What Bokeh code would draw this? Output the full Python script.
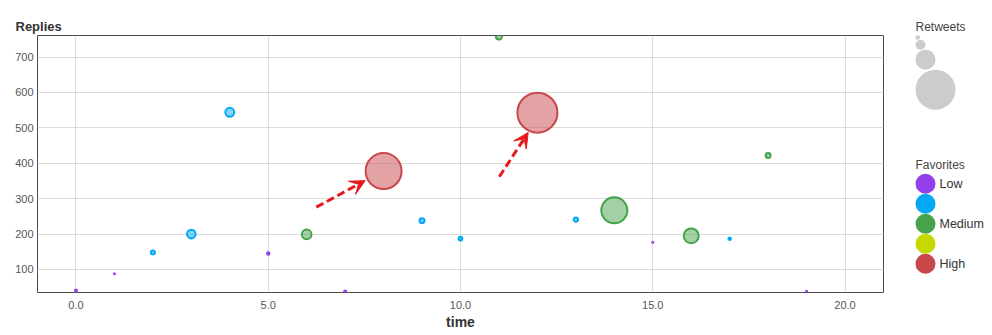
import math
from bokeh.plotting import figure
from bokeh.layouts import row
from bokeh.models import (Range1d, FixedTicker, PrintfTickFormatter, Arrow,
                          VeeHead, ColumnDataSource)
from bokeh.core.properties import value
from bokeh.embed import file_html
from bokeh.resources import INLINE

# ---------------- data ----------------
TIME = list(range(20))
REPLIES = [41, 88, 148, 200, 544, 145, 199, 38, 378, 238,
           187, 758, 543, 241, 267, 177, 195, 187, 422, 38]
RETWEETS = [4, 1.5, 9, 28, 30, 5, 34, 4, 361, 12,
            8, 16, 441, 10, 196, 1, 72, 5, 12, 2]
FAVORITES = [0, 0, 1, 1, 1, 0, 2, 0, 4, 1,
             1, 2, 4, 1, 2, 0, 2, 1, 2, 0]
FAV_LABELS = ["Low", "", "Medium", "", "High"]
FAV_COLORS = ["#9340ec", "#03a9f4", "#47a34b", "#c5d900", "#c8474a"]
RETWEET_LEGEND = [5, 25, 100, 400]
X_TICKS = [0, 5, 10, 15, 20]
Y_TICKS = [100, 200, 300, 400, 500, 600, 700]
# annotation arrows (data coordinates): start -> end
ARROW_X0 = [6.25, 11.01]
ARROW_Y0 = [276, 362]
ARROW_X1 = [7.52, 11.76]
ARROW_Y1 = [351, 487]

FONT = "Liberation Sans"
STROKE = 2


def radius(rt):
    return math.sqrt(rt)


# ---------------- main plot ----------------
p = figure(width=900, height=335, x_range=Range1d(-1, 21), y_range=Range1d(35, 761),
           output_backend="svg", toolbar_location=None,
           min_border_left=37, min_border_right=17, min_border_top=35, min_border_bottom=43)
p.background_fill_color = "white"
p.border_fill_color = "white"
p.outline_line_color = "#4a4a4a"
p.outline_line_width = 1

p.title.text = "Replies"
p.title.align = "left"
p.title.offset = -22
p.title.standoff = 3
p.title.text_font = FONT
p.title.text_font_size = "13px"
p.title.text_font_style = "bold"
p.title.text_color = "#333333"

p.xaxis.ticker = FixedTicker(ticks=X_TICKS)
p.yaxis.ticker = FixedTicker(ticks=Y_TICKS)
p.xaxis.formatter = PrintfTickFormatter(format="%.1f")
p.xaxis.axis_label = "time"
for ax in (p.xaxis, p.yaxis):
    ax.axis_line_color = None
    ax.major_tick_line_color = None
    ax.minor_tick_line_color = None
    ax.major_tick_out = 0
    ax.major_tick_in = 0
    ax.minor_tick_out = 0
    ax.minor_tick_in = 0
    ax.major_label_text_font = FONT
    ax.major_label_text_font_size = "11px"
    ax.major_label_text_color = "#555555"
p.yaxis.major_label_standoff = 4
p.xaxis.major_label_standoff = 8
p.xaxis.axis_label_text_font = FONT
p.xaxis.axis_label_text_font_size = "14px"
p.xaxis.axis_label_text_font_style = "bold"
p.xaxis.axis_label_text_color = "#333333"
p.xaxis.axis_label_standoff = 2

p.xgrid.ticker = FixedTicker(ticks=X_TICKS)
p.ygrid.ticker = FixedTicker(ticks=Y_TICKS)
p.grid.grid_line_color = "#dcdcdc"
p.grid.grid_line_width = 1

sizes = [max(2 * radius(r) - STROKE, 1.2) for r in RETWEETS]
colors = [FAV_COLORS[f] for f in FAVORITES]
order = sorted(range(len(TIME)), key=lambda i: -RETWEETS[i])
src = ColumnDataSource(dict(
    t=[TIME[i] for i in order], r=[REPLIES[i] for i in order],
    s=[sizes[i] for i in order], c=[colors[i] for i in order]))
p.scatter(x="t", y="r", size="s", source=src, marker="circle",
          fill_color="c", fill_alpha=0.5, line_color="c", line_width=STROKE)

for x0, y0, x1, y1 in zip(ARROW_X0, ARROW_Y0, ARROW_X1, ARROW_Y1):
    p.add_layout(Arrow(x_start=x0, y_start=y0, x_end=x1, y_end=y1,
                       line_color="#e8191c", line_width=3, line_dash="8 4",
                       end=VeeHead(size=15, fill_color="#e8191c", line_color="#e8191c",
                                   line_width=1)))

# ---------------- legend panel ----------------
lg = figure(width=92, height=335, x_range=Range1d(0, 92), y_range=Range1d(335, 0),
            output_backend="svg", toolbar_location=None,
            x_axis_type=None, y_axis_type=None,
            min_border=0, min_border_left=0, min_border_right=0,
            min_border_top=0, min_border_bottom=0)
lg.frame_align = False
lg.grid.visible = False
lg.outline_line_color = None
lg.background_fill_color = "white"
lg.border_fill_color = "white"

LEFT = 15
lg.text(x=[LEFT], y=[26], text=["Retweets"], text_baseline="middle",
        text_font=value(FONT), text_font_size="12px", text_color="#444444")
top = 34.7
lx, ly, ls = [], [], []
for rt in RETWEET_LEGEND:
    r = radius(rt)
    lx.append(LEFT + r)
    ly.append(top + r)
    ls.append(2 * r)
    top += 2 * r
lg.scatter(x=lx, y=ly, size=ls, marker="circle", fill_color="#cccccc",
           line_color=None)

lg.text(x=[LEFT], y=[164], text=["Favorites"], text_baseline="middle",
        text_font=value(FONT), text_font_size="12px", text_color="#444444")
fy = [183.3 + 20 * i for i in range(len(FAV_COLORS))]
lg.scatter(x=[LEFT + 10] * len(FAV_COLORS), y=fy, size=20, marker="circle",
           fill_color=FAV_COLORS, line_color=None)
lg.text(x=[LEFT + 24] * len(FAV_LABELS), y=fy, text=FAV_LABELS, text_baseline="middle",
        text_font=value(FONT), text_font_size="12.5px", text_color="#333333")

layout = row(p, lg, spacing=0)
open("out.html", "w").write(file_html(layout, INLINE))
